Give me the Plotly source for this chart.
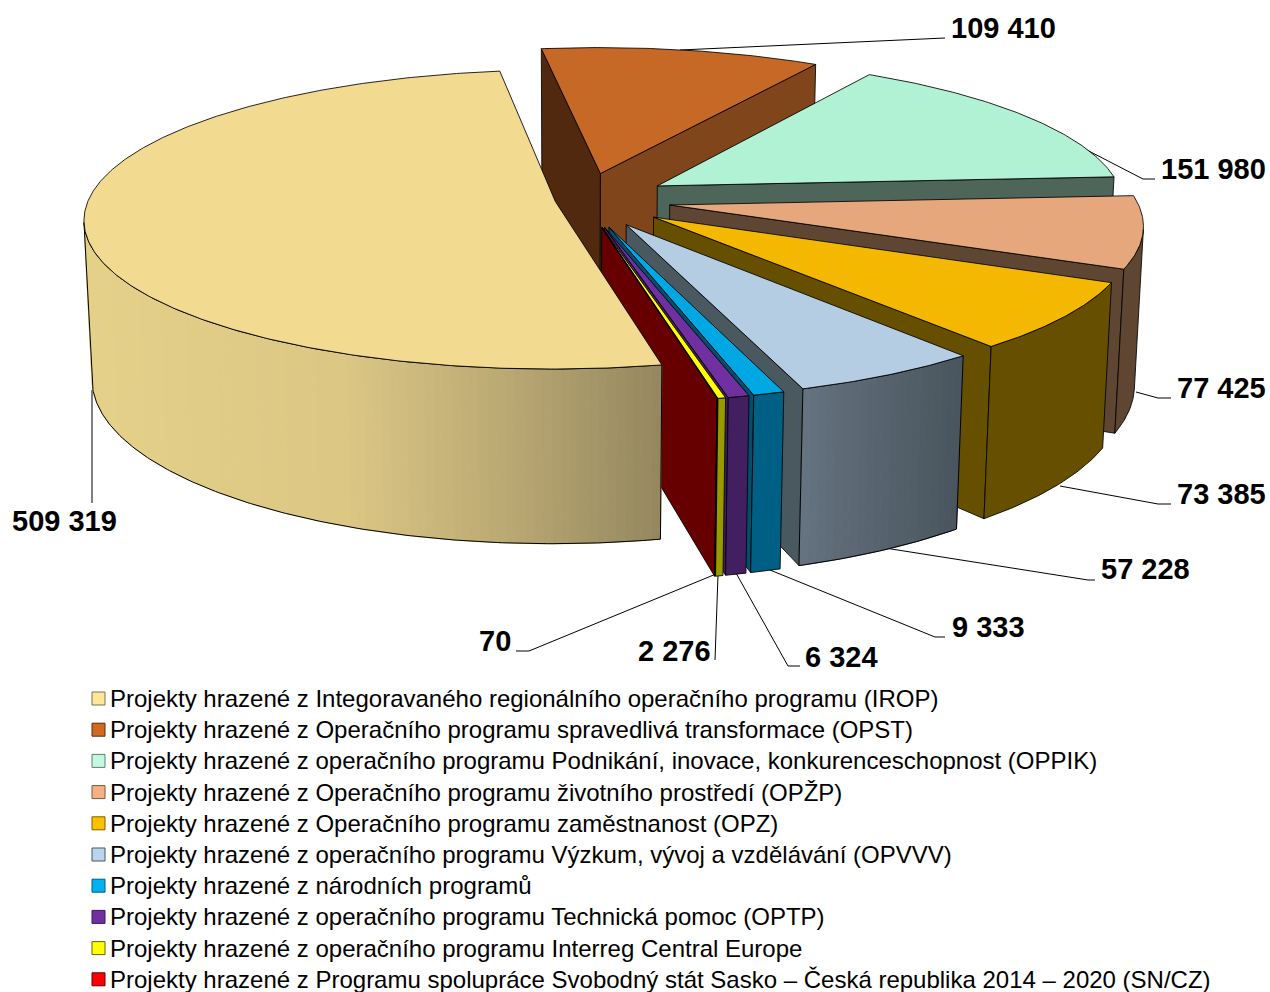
import numpy as np
import plotly.graph_objects as go

# ---------- data ----------
categories = [
    "Projekty hrazené z Integoravaného regionálního operačního programu (IROP)",
    "Projekty hrazené z Operačního programu spravedlivá transformace (OPST)",
    "Projekty hrazené z operačního programu Podnikání, inovace, konkurenceschopnost (OPPIK)",
    "Projekty hrazené z Operačního programu životního prostředí (OPŽP)",
    "Projekty hrazené z Operačního programu zaměstnanost (OPZ)",
    "Projekty hrazené z operačního programu Výzkum, vývoj a vzdělávání (OPVVV)",
    "Projekty hrazené z národních programů",
    "Projekty hrazené z operačního programu Technická pomoc (OPTP)",
    "Projekty hrazené z operačního programu Interreg Central Europe",
    "Projekty hrazené z Programu spolupráce Svobodný stát Sasko – Česká republika 2014 – 2020 (SN/CZ)",
]
values = [509319, 109410, 151980, 77425, 73385, 57228, 9333, 6324, 2276, 70]

# ---------- styles ----------
top_colors = ["#f2da91", "#c66926", "#b2f2d4", "#e6a77d", "#f4b800", "#b4cde3", "#00a8e3", "#7030a0", "#ffff00", "#c00000"]
left_cut = ["#9c8c5c", "#50290f", "#4d6659", "#5f4633", "#665000", "#4a5860", "#005f80", "#421f60", "#999900", "#660000"]
right_cut = ["#9c8c5c", "#80451b", "#4d6659", "#5f4633", "#665000", "#4a5860", "#004f6c", "#421f60", "#999900", "#660000"]
wall_stops = [
    [(0, "#e5d189"), (0.45, "#dcc785"), (0.75, "#b8a772"), (1, "#958760")],
    [(0, "#80451b"), (1, "#80451b")],
    [(0, "#4d6659"), (1, "#4d6659")],
    [(0, "#5f4633"), (1, "#5f4633")],
    [(0, "#665000"), (1, "#665000")],
    [(0, "#65727f"), (1, "#49565e")],
    [(0, "#005f85"), (1, "#005f85")],
    [(0, "#421f60"), (1, "#421f60")],
    [(0, "#999900"), (1, "#999900")],
    [(0, "#660000"), (1, "#660000")],
]
legend_colors = ["#ffe699", "#d2691e", "#c2f9df", "#f4b183", "#ffc000", "#b8d4ee", "#00b0f0", "#7030a0", "#ffff00", "#ff0000"]
legend_edges = ["#7f7350", "#5a2d0c", "#60806f", "#7a5840", "#7f6000", "#4a5860", "#005f80", "#3a1860", "#666600", "#660000"]
explosion = [0.06] + [0.188] * 9

START_ANGLE = 168.0
CX, CY, RX, RY, H, K, M = 583.0, 200.0, 467.0, 147.0, 159.0, 0.12, 0.016
OUT = "rgba(0,0,0,0.85)"


def project(X, Y, zf):
    X, Y = np.asarray(X, float), np.asarray(Y, float)
    w = 1 + K * Y + M * zf
    return CX + RX * X / w, CY - (RY * Y - H * zf) / w


def hex2rgb(c):
    return np.array([int(c[i:i + 2], 16) for i in (1, 3, 5)], float)


def grad(stops, t):
    for (t0, c0), (t1, c1) in zip(stops, stops[1:]):
        if t <= t1:
            f = (t - t0) / (t1 - t0) if t1 > t0 else 0
            r = hex2rgb(c0) * (1 - f) + hex2rgb(c1) * f
            return "rgb(%d,%d,%d)" % tuple(r)
    return stops[-1][1]


def area(xs, ys):
    return 0.5 * np.sum(xs * np.roll(ys, -1) - np.roll(xs, -1) * ys)


fig = go.Figure()


def poly(xs, ys, fill, line=OUT, width=1.0):
    fig.add_trace(go.Scatter(
        x=list(xs) + [xs[0]], y=list(ys) + [ys[0]], mode="lines", fill="toself",
        fillcolor=fill, line=dict(color=line, width=width),
        hoverinfo="skip", showlegend=False))


def path(xs, ys, width=1.0, color="#000000"):
    fig.add_trace(go.Scatter(x=xs, y=ys, mode="lines", line=dict(color=color, width=width),
                             hoverinfo="skip", showlegend=False))


# ---------- leader lines (layout, behind the pie) ----------
leaders = [
    ([680, 945, 945], [50, 38, 38]),
    ([1052, 1143, 1155], [132, 179, 179]),
    ([1136, 1158, 1171], [392, 398, 398]),
    ([1060, 1158, 1171], [486, 504, 504]),
    ([885, 1088, 1095], [548, 580, 580]),
    ([770, 935, 945], [570, 637, 637]),
    ([736, 788, 800], [573, 666, 666]),
    ([718, 715], [575, 660]),
    ([716, 529, 516], [574, 651, 651]),
    ([92, 92], [390, 503]),
]
for lx, ly in leaders:
    path(lx, ly)

# ---------- pie geometry ----------
total = sum(values)
spans = [v / total * 360 for v in values]
starts = [START_ANGLE + sum(spans[:i]) for i in range(len(values))]


def draw_slice(i):
    t1, t2 = starts[i], starts[i] + spans[i]
    tm = np.radians((t1 + t2) / 2)
    ax, ay = explosion[i] * np.sin(tm), explosion[i] * np.cos(tm)
    n = max(2, int(np.ceil(spans[i] * 2)) + 1)
    th = np.radians(np.linspace(t1, t2, n))
    X, Y = ax + np.sin(th), ay + np.cos(th)
    tx, ty = project(X, Y, 0)
    bx, by = project(X, Y, 1)
    atx, aty = project(ax, ay, 0)
    abx, aby = project(ax, ay, 1)

    # cut faces
    lx = np.array([atx, tx[0], bx[0], abx]); ly = np.array([aty, ty[0], by[0], aby])
    if area(lx, ly) < 0:
        poly(lx, ly, left_cut[i])
    rx = np.array([atx, tx[-1], bx[-1], abx]); ry = np.array([aty, ty[-1], by[-1], aby])
    if area(rx, ry) > 0:
        poly(rx, ry, right_cut[i])

    # outer wall strips, only those facing the camera
    vis = [k for k in range(n - 1)
           if area(np.array([tx[k], tx[k + 1], bx[k + 1], bx[k]]),
                   np.array([ty[k], ty[k + 1], by[k + 1], by[k]])) < 0]
    if vis:
        xmin = min(tx[k] for k in vis)
        xmax = max(tx[k + 1] if tx[k + 1] > tx[k] else tx[k] for k in vis)
        flat = wall_stops[i][0][1] == wall_stops[i][-1][1]
        if flat:
            k0, k1 = vis[0], vis[-1] + 1
            poly(np.r_[tx[k0:k1 + 1], bx[k0:k1 + 1][::-1]],
                 np.r_[ty[k0:k1 + 1], by[k0:k1 + 1][::-1]], wall_stops[i][0][1])
        else:
            for k in vis[::2]:
                e = min(k + 2, n - 1)
                t = float(np.clip(((tx[k] + tx[e]) / 2 - xmin) / max(xmax - xmin, 1), 0, 1))
                col = grad(wall_stops[i], t)
                poly([tx[k], tx[e], bx[e], bx[k]], [ty[k], ty[e], by[e], by[k]], col, line=col, width=1)
            k0, k1 = vis[0], vis[-1] + 1
            ox = np.r_[tx[k0:k1 + 1], bx[k0:k1 + 1][::-1], tx[k0]]
            oy = np.r_[ty[k0:k1 + 1], by[k0:k1 + 1][::-1], ty[k0]]
            path(list(ox), list(oy))

    # top face
    poly(np.r_[atx, tx], np.r_[aty, ty], top_colors[i])


for i in list(range(1, len(values))) + [0]:
    draw_slice(i)

# ---------- value labels (layout) ----------
labels = [f"{v:,}".replace(",", " ") for v in values]
label_pos = [(117, 521, "right"), (951, 28, "left"), (1161, 169, "left"), (1177, 388, "left"),
             (1177, 494, "left"), (1101, 569, "left"), (952, 627, "left"), (805, 657, "left"),
             (711, 651, "right"), (511, 641, "right")]
for txt, (x, y, anc) in zip(labels, label_pos):
    fig.add_annotation(x=x, y=y, xref="x", yref="y", text=f"<b>{txt}</b>", showarrow=False,
                       xanchor=anc, yanchor="middle", borderpad=0, borderwidth=0,
                       font=dict(family="Liberation Sans", size=29, color="#000000"))

# ---------- legend ----------
legend_x, legend_y0, legend_dy = 98.5, 698.5, 31.2
legend_ys = [legend_y0 + legend_dy * i for i in range(len(categories))]
fig.add_trace(go.Scatter(
    x=[legend_x] * len(categories), y=legend_ys, mode="markers", hoverinfo="skip", showlegend=False,
    marker=dict(symbol="square", size=13, color=legend_colors, line=dict(color=legend_edges, width=1))))
for cat, y in zip(categories, legend_ys):
    fig.add_annotation(x=110, y=y, xref="x", yref="y", text=cat, showarrow=False,
                       xanchor="left", yanchor="middle", borderpad=0, borderwidth=0,
                       font=dict(family="Liberation Sans", size=24, color="#000000"))

fig.update_layout(
    width=1270, height=992, autosize=False, showlegend=False,
    margin=dict(l=0, r=0, t=0, b=0), paper_bgcolor="#ffffff", plot_bgcolor="#ffffff",
    xaxis=dict(range=[0, 1270], visible=False, fixedrange=True),
    yaxis=dict(range=[992, 0], visible=False, fixedrange=True),
)
fig.write_html("out.html", config={"displayModeBar": False},
               post_script="document.body.style.margin='0';document.body.style.overflow='hidden';")
